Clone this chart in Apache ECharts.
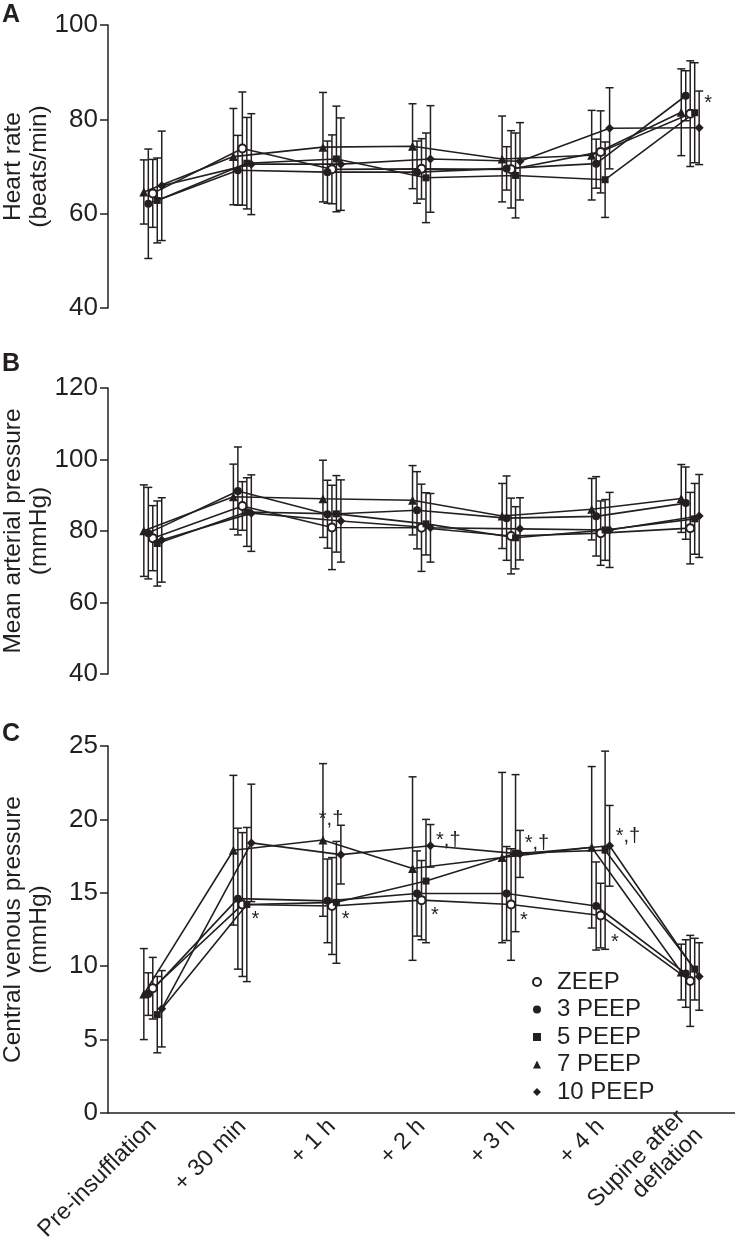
<!DOCTYPE html>
<html><head><meta charset="utf-8">
<script src="https://cdn.jsdelivr.net/npm/echarts@6/dist/echarts.min.js"></script>
<style>html,body{margin:0;padding:0;background:#fff}#c{width:735px;height:1256px}</style>
</head><body><div id="c"></div>
<script>
// ---- categories / series ----
const categories = ['Pre-insufflation', '+ 30 min', '+ 1 h', '+ 2 h', '+ 3 h', '+ 4 h', 'Supine after\ndeflation'];
const seriesNames = ['ZEEP', '3 PEEP', '5 PEEP', '7 PEEP', '10 PEEP'];

// ---- A: Heart rate (mean, SD) ----
const hrZEEP = [64.3, 73.8, 69.4, 69.5, 69.4, 73.1, 81.2];
const hrZEEPsd = [7.2, 12.0, 7.3, 6.4, 8.2, 8.7, 11.2];
const hr3 = [62.1, 69.2, 68.8, 68.8, 69.6, 70.6, 85.0];
const hr3sd = [11.6, 7.4, 6.6, 6.6, 4.6, 5.2, 5.3];
const hr5 = [62.8, 70.7, 71.6, 67.6, 68.1, 67.2, 81.4];
const hr5sd = [9.0, 9.7, 11.2, 9.5, 9.0, 8.0, 10.6];
const hr7 = [64.6, 72.1, 74.1, 74.3, 71.6, 72.4, 81.5];
const hr7sd = [6.8, 10.2, 11.6, 9.0, 9.1, 9.5, 9.2];
const hr10 = [65.9, 70.5, 70.5, 71.6, 71.1, 78.1, 78.2];
const hr10sd = [11.6, 10.7, 9.8, 11.3, 8.2, 8.6, 7.8];

// ---- B: Mean arterial pressure (mean, SD) ----
const mapZEEP = [78.0, 87.0, 81.0, 80.9, 78.6, 79.4, 80.8];
const mapZEEPsd = [9.1, 6.8, 11.8, 12.2, 10.6, 9.0, 10.0];
const map3 = [79.4, 91.2, 84.7, 85.8, 83.6, 84.1, 87.8];
const map3sd = [12.8, 12.3, 9.5, 10.8, 11.8, 11.1, 10.1];
const map5 = [76.5, 85.3, 84.8, 82.0, 78.1, 80.3, 83.4];
const map5sd = [11.9, 9.6, 10.7, 8.7, 8.7, 8.5, 9.9];
const map7 = [80.1, 89.6, 89.0, 88.6, 84.2, 86.1, 89.1];
const map7sd = [12.8, 9.1, 10.8, 9.7, 9.1, 8.6, 9.5];
const map10 = [77.5, 85.0, 82.8, 80.9, 80.6, 80.3, 84.2];
const map10sd = [11.8, 10.7, 11.5, 9.6, 8.7, 10.5, 11.6];

// ---- C: Central venous pressure (mean, SD) ----
const cvpZEEP = [8.5, 14.2, 14.1, 14.5, 14.2, 13.45, 9.0];
const cvpZEEPsd = [2.1, 4.9, 3.3, 2.7, 3.8, 2.2, 3.1];
const cvp3 = [8.1, 14.6, 14.45, 14.95, 14.95, 14.1, 9.5];
const cvp3sd = [1.45, 4.8, 2.85, 2.9, 3.2, 3.0, 2.3];
const cvp5 = [6.7, 14.2, 14.35, 15.8, 17.7, 17.9, 9.8];
const cvp5sd = [2.6, 5.25, 4.15, 4.2, 5.35, 6.75, 2.1];
const cvp7 = [8.1, 17.9, 18.6, 16.65, 17.4, 18.1, 9.6];
const cvp7sd = [3.1, 5.1, 5.2, 6.25, 5.8, 5.5, 1.9];
const cvp10 = [7.1, 18.4, 17.6, 18.2, 17.65, 18.2, 9.3];
const cvp10sd = [2.6, 4.0, 2.0, 1.45, 1.6, 2.75, 2.3];

// ---- axis ticks [min, max, interval] ----
const ticksA = [40, 100, 20];
const ticksB = [40, 120, 20];
const ticksC = [0, 25, 5];

// ---- significance annotations: [x in category units, y value, text] ----
const annA = [[6.70, 84.3, '*']];
const annC = [[1.646, 13.44, '*'], [2.652, 13.44, '*'], [3.649, 13.71, '*'], [4.643, 13.37, '*'], [5.659, 11.9, '*'],
              [2.49, 20.3, '*,\u2020'], [3.799, 18.82, '*,\u2020'], [4.788, 18.6, '*,\u2020'], [5.805, 19.1, '*,\u2020']];

// ---- styling ----
const ink = '#231f20';
const font = "'Liberation Sans', Arial, Helvetica, sans-serif";
const symbols = ['emptyCircle', 'circle', 'rect', 'triangle', 'diamond'];
const symbolSizes = [8, 8, 7, 9, 9];
const dodge = [0, -1, 1, -2, 2];
const step = 0.05;

const panels = [
  { means: [hrZEEP, hr3, hr5, hr7, hr10], sds: [hrZEEPsd, hr3sd, hr5sd, hr7sd, hr10sd], ticks: ticksA, title: 'Heart rate\n(beats/min)', ann: annA },
  { means: [mapZEEP, map3, map5, map7, map10], sds: [mapZEEPsd, map3sd, map5sd, map7sd, map10sd], ticks: ticksB, title: 'Mean arterial pressure\n(mmHg)', ann: [] },
  { means: [cvpZEEP, cvp3, cvp5, cvp7, cvp10], sds: [cvpZEEPsd, cvp3sd, cvp5sd, cvp7sd, cvp10sd], ticks: ticksC, title: 'Central venous pressure\n(mmHg)', ann: annC }
];
const gridPos = [{ top: 25, height: 283 }, { top: 388, height: 286 }, { top: 746, height: 367 }];
const dataXAxis = [0, 1, 3];

const chart = echarts.init(document.getElementById('c'), null, { renderer: 'canvas' });

const grids = gridPos.map(g => ({ left: 108, right: 0, top: g.top, height: g.height, containLabel: false, outerBoundsMode: 'none' }));
const xAxes = [
  { type: 'value', gridIndex: 0, min: 0, max: 7, show: false },
  { type: 'value', gridIndex: 1, min: 0, max: 7, show: false },
  { type: 'category', gridIndex: 2, data: categories, boundaryGap: true,
    axisLine: { lineStyle: { color: ink, width: 1.5 } },
    axisTick: { length: 8, lineStyle: { color: ink, width: 1.5 } },
    axisLabel: { interval: 0, rotate: 45, margin: 10, fontSize: 23.5, color: ink, fontFamily: font, lineHeight: 25 },
    splitLine: { show: false } },
  { type: 'value', gridIndex: 2, min: 0, max: 7, show: false }
];
const yAxes = panels.map((p, i) => ({
  type: 'value', gridIndex: i, min: p.ticks[0], max: p.ticks[1], interval: p.ticks[2],
  name: p.title, nameLocation: 'middle', nameGap: 56, nameMoveOverlap: false,
  nameTextStyle: { fontSize: 24.5, color: ink, fontFamily: font, lineHeight: 26, align: 'center' },
  axisLine: { show: true, lineStyle: { color: ink, width: 1.5 } },
  axisTick: { show: true, length: 8, lineStyle: { color: ink, width: 1.5 } },
  axisLabel: { fontSize: 26, color: ink, fontFamily: font, margin: 10 },
  splitLine: { show: false }
}));

function errRender(params, api) {
  const x = api.value(0), lo = api.value(1), hi = api.value(2);
  const a = api.coord([x, lo]), b = api.coord([x, hi]);
  const w = 4;
  const st = { stroke: ink, lineWidth: 1.5 };
  return { type: 'group', children: [
    { type: 'line', shape: { x1: a[0], y1: a[1], x2: b[0], y2: b[1] }, style: st },
    { type: 'line', shape: { x1: b[0] - w, y1: b[1], x2: b[0] + w, y2: b[1] }, style: st },
    { type: 'line', shape: { x1: a[0] - w, y1: a[1], x2: a[0] + w, y2: a[1] }, style: st }
  ] };
}

const series = [];
panels.forEach((p, pi) => {
  p.means.forEach((m, k) => {
    series.push({
      type: 'custom', xAxisIndex: dataXAxis[pi], yAxisIndex: pi, z: 2,
      renderItem: errRender, encode: { x: 0, y: [1, 2] },
      data: m.map((v, i) => [i + 0.5 + dodge[k] * step, v - p.sds[k][i], v + p.sds[k][i]]),
      silent: true
    });
  });
  p.means.forEach((m, k) => {
    series.push({
      type: 'line', name: seriesNames[k], xAxisIndex: dataXAxis[pi], yAxisIndex: pi, z: 3,
      data: m.map((v, i) => [i + 0.5 + dodge[k] * step, v]),
      symbol: symbols[k], symbolSize: symbolSizes[k], showAllSymbol: true,
      lineStyle: { color: ink, width: 1.6 },
      itemStyle: { color: ink, borderColor: ink, borderWidth: k === 0 ? 1.5 : 0 },
      emphasis: { disabled: true }, clip: false
    });
  });
  if (p.ann.length) {
    series.push({
      type: 'custom', xAxisIndex: dataXAxis[pi], yAxisIndex: pi, z: 4, silent: true,
      encode: { x: 0, y: 1 },
      data: p.ann.map(a => [a[0], a[1]]),
      renderItem: (params, api) => {
        const pt = api.coord([api.value(0), api.value(1)]);
        return { type: 'text', x: pt[0], y: pt[1] + 4,
          style: { text: p.ann[params.dataIndex][2], fill: ink, fontSize: 20, fontFamily: font, align: 'center', verticalAlign: 'middle' } };
      }
    });
  }
});

chart.setOption({
  animation: false,
  backgroundColor: '#fff',
  color: [ink],
  textStyle: { fontFamily: font },
  grid: grids,
  xAxis: xAxes,
  yAxis: yAxes,
  legend: {
    orient: 'vertical', left: 532, top: 970, padding: 0, itemWidth: 8, itemHeight: 8, itemGap: 3.5,
    selectedMode: false,
    itemStyle: { color: ink, borderColor: ink },
    textStyle: { fontSize: 24, color: ink, fontFamily: font, padding: [0, 0, 0, 11] },
    data: seriesNames.map((n, k) => ({ name: n, icon: symbols[k] }))
  },
  graphic: [
    { type: 'text', left: 2, top: 3, style: { text: 'A', fontSize: 25, fontWeight: 'bold', fill: ink, fontFamily: font } },
    { type: 'text', left: 2, top: 352, style: { text: 'B', fontSize: 25, fontWeight: 'bold', fill: ink, fontFamily: font } },
    { type: 'text', left: 2, top: 722, style: { text: 'C', fontSize: 25, fontWeight: 'bold', fill: ink, fontFamily: font } }
  ],
  series: series
});
</script></body></html>
